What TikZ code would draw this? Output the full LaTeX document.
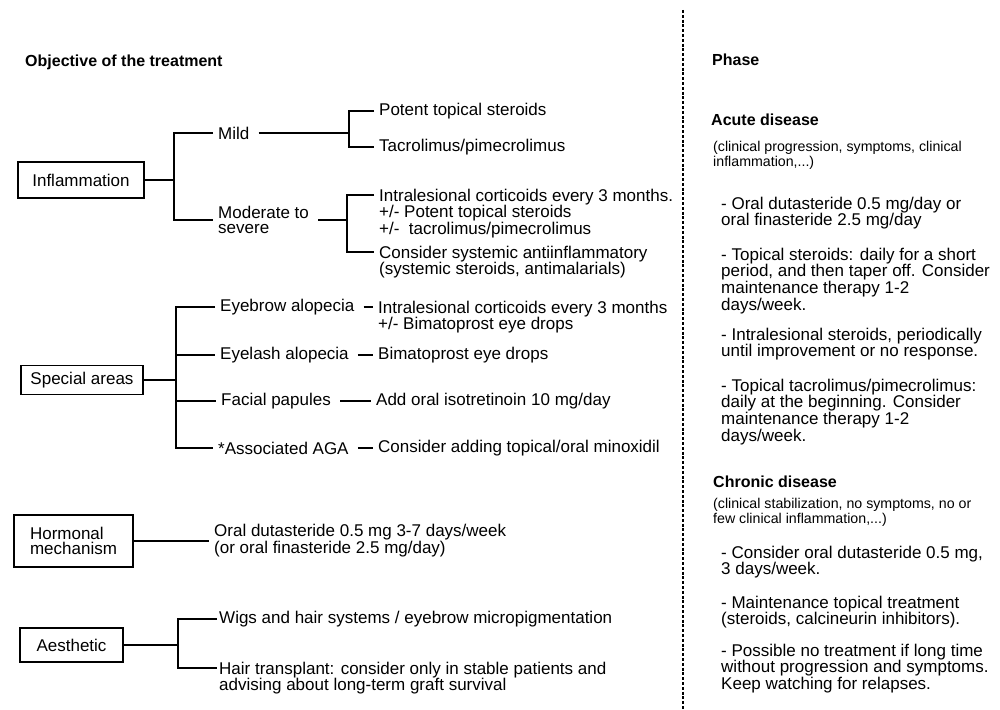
\documentclass[tikz,border=0pt]{standalone}
\usepackage{fontspec}
\setmainfont{Liberation Sans}
\usetikzlibrary{positioning}
\newcommand{\fsLabel}{\fontsize{17}{15.5}\selectfont}
\newcommand{\fsPara}{\fontsize{17}{14.5}\selectfont}
\newcommand{\fsHead}{\fontsize{16}{18}\selectfont\bfseries}
\newcommand{\fsNote}{\fontsize{14.2}{12.5}\selectfont}

\begin{document}
\begin{tikzpicture}[x=1pt,y=-1pt,
    box/.style={draw, line width=1.9pt, inner sep=0pt, font=\fsLabel, align=left},
    lbl/.style={anchor=west, inner xsep=5pt, inner ysep=0pt, font=\fsLabel, align=left},
    blk/.style={anchor=north west, inner xsep=5pt, inner ysep=0pt, font=\fsLabel, align=left},
    para/.style={anchor=north west, inner sep=0pt, font=\fsPara, align=left},
    head/.style={anchor=west, inner sep=0pt, font=\fsHead},
    note/.style={anchor=north west, inner sep=0pt, font=\fsNote, align=left},
    link/.style={line width=1.9pt},
    tick/.style={line width=1.9pt, shorten <=4pt},
    divider/.style={line width=2pt, dash pattern=on 3pt off 1.8pt}
    ]

    \useasboundingbox (0,0) rectangle (1000,709);

    \node [head] (objective) at (25,62) {Objective of the treatment};
    \node [head] (phase) at (712,60) {Phase};

    \node [box, minimum width=126pt, minimum height=36pt] (infl) at (81,180) {Inflammation};
    \coordinate (inflj) at (174,180);
    \node [lbl] (mild) at (213,133) {Mild};
    \node [lbl] (modsev) at (213,220) {Moderate to\\severe};
    \coordinate (mildj) at (349,133);
    \node [lbl] (potent) at (374,111) {Potent topical steroids};
    \node [lbl] (tacro) at (374,147) {Tacrolimus/pimecrolimus};
    \coordinate (modj) at (347,220);
    \node [blk] (intra) at (374,188.5) {Intralesional corticoids every 3 months.\\+/- Potent topical steroids\\+/-~ tacrolimus/pimecrolimus};
    \node [blk] (sysaf) at (374,245.5) {Consider systemic antiinflammatory\\(systemic steroids, antimalarials)};

    \draw [link] (infl) -- (inflj);
    \draw [link] (mild.west) -| (inflj) |- (modsev.west);
    \draw [tick] (mild.east) -- (mildj);
    \draw [link] (potent.west) -| (mildj) |- (tacro.west);
    \draw [tick] (modsev.east |- modj) -- (modj);
    \draw [link] ([yshift=-6.5pt]intra.north west) -| (modj) |- ([yshift=-6.5pt]sysaf.north west);

    \node [box, minimum width=122pt, minimum height=29pt] (spec) at (82,380) {Special areas};
    \coordinate (specj) at (176,380);
    \node [lbl] (brow) at (215,307) {Eyebrow alopecia};
    \node [lbl] (lash) at (215,355) {Eyelash alopecia};
    \node [lbl] (papul) at (216,401) {Facial papules};
    \node [lbl] (aga) at (213,448) {*Associated AGA};
    \node [blk] (browrx) at (373,300.5) {Intralesional corticoids every 3 months\\+/- Bimatoprost eye drops};
    \node [lbl] (lashrx) at (373,355) {Bimatoprost eye drops};
    \node [lbl] (papulrx) at (371,401) {Add oral isotretinoin 10 mg/day};
    \node [lbl] (agarx) at (373,448) {Consider adding topical/oral minoxidil};

    \draw [link] (spec) -- (specj);
    \draw [link] (brow.west) -| (specj) |- (aga.west);
    \draw [link] (specj |- lash.west) -- (lash.west);
    \draw [link] (specj |- papul.west) -- (papul.west);
    \draw [tick] (brow.east) -- ([yshift=-6.5pt]browrx.north west);
    \draw [tick] (lash) -- (lashrx);
    \draw [tick] (papul) -- (papulrx);
    \draw [tick] (aga) -- (agarx);

    \node [box, minimum width=119pt, minimum height=52pt] (horm) at (73.5,541) {Hormonal\\mechanism};
    \node [lbl] (hormrx) at (209,541) {Oral dutasteride 0.5 mg 3-7 days/week\\(or oral finasteride 2.5 mg/day)};
    \draw [link] (horm) -- (hormrx);

    \node [box, minimum width=103pt, minimum height=34pt] (aest) at (71.5,645) {Aesthetic};
    \coordinate (aestj) at (178,645);
    \node [lbl, inner xsep=2pt] (wigs) at (217,619) {Wigs and hair systems / eyebrow micropigmentation};
    \node [blk, inner xsep=2pt] (graft) at (217,661.5) {Hair transplant: consider only in stable patients and\\advising about long-term graft survival};
    \draw [link] (aest) -- (aestj);
    \draw [link] (wigs.west) -| (aestj) |- ([yshift=-6.5pt]graft.north west);

    \coordinate (divtop) at (683,10);
    \coordinate (divbot) at (683,709);
    \draw [divider] (divtop) -- (divbot);

    \node [head] (acute) at (711,120) {Acute disease};
    \node [note] (acutenote) at (713,141.5) {(clinical progression, symptoms, clinical\\inflammation,...)};
    \node [para] (acute1) at (721,196.5) {- Oral dutasteride 0.5 mg/day or\\oral finasteride 2.5 mg/day};
    \node [para] (acute2) at (721,247.5) {- Topical steroids: daily for a short\\period, and then taper off. Consider\\maintenance therapy 1-2\\days/week.};
    \node [para] (acute3) at (721,327.5) {- Intralesional steroids, periodically\\until improvement or no response.};
    \node [para] (acute4) at (721,378.5) {- Topical tacrolimus/pimecrolimus:\\daily at the beginning. Consider\\maintenance therapy 1-2\\days/week.};

    \node [head] (chronic) at (713,482) {Chronic disease};
    \node [note] (chronicnote) at (713,498.5) {(clinical stabilization, no symptoms, no or\\few clinical inflammation,...)};
    \node [para] (chronic1) at (721,545.5) {- Consider oral dutasteride 0.5 mg,\\3 days/week.};
    \node [para] (chronic2) at (721,595.5) {- Maintenance topical treatment\\(steroids, calcineurin inhibitors).};
    \node [para] (chronic3) at (721,643.5) {- Possible no treatment if long time\\without progression and symptoms.\\Keep watching for relapses.};

\end{tikzpicture}
\end{document}
